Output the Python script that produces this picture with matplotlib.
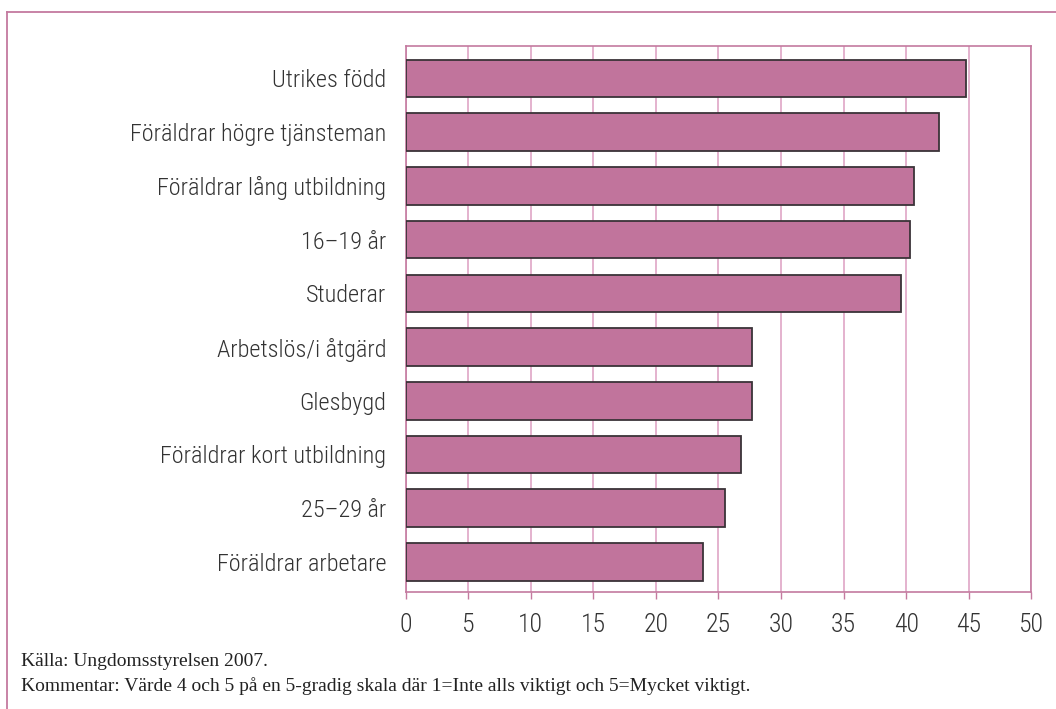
import matplotlib
matplotlib.use("Agg")
import matplotlib.pyplot as plt
from matplotlib import font_manager
from matplotlib.lines import Line2D

# data
categories = [
    "Utrikes född",
    "Föräldrar högre tjänsteman",
    "Föräldrar lång utbildning",
    "16–19 år",
    "Studerar",
    "Arbetslös/i åtgärd",
    "Glesbygd",
    "Föräldrar kort utbildning",
    "25–29 år",
    "Föräldrar arbetare",
]
values = [44.8, 42.6, 40.6, 40.3, 39.6, 27.7, 27.7, 26.8, 25.5, 23.8]
x_ticks = [0, 5, 10, 15, 20, 25, 30, 35, 40, 45, 50]
source_text = "Källa: Ungdomsstyrelsen 2007."
comment_text = "Kommentar: Värde 4 och 5 på en 5-gradig skala där 1=Inte alls viktigt och 5=Mycket viktigt."

BAR_COLOR = "#c1749c"
EDGE_COLOR = "#3a3338"
FRAME_COLOR = "#c47a9f"
GRID_COLOR = "#dfa6c6"


def pick_font(names, fallback):
    installed = {f.name for f in font_manager.fontManager.ttflist}
    for n in names:
        if n in installed:
            return n
    return fallback


label_font = pick_font(["Roboto Condensed", "Liberation Sans Narrow", "DejaVu Sans Condensed"], "DejaVu Sans")
serif_font = pick_font(["Liberation Serif", "DejaVu Serif"], "serif")

fig = plt.figure(figsize=(10.56, 7.09), dpi=100)
ax = fig.add_axes([405.7 / 1056, 1 - 592 / 709, (1031.3 - 405.7) / 1056, (592 - 45.7) / 709])

ypos = list(range(len(categories)))
ax.barh(ypos, values, height=0.70, color=BAR_COLOR, edgecolor=EDGE_COLOR, linewidth=1.3, zorder=3)

ax.set_xlim(0, 50)
ax.set_ylim(9.56, -0.61)
ax.set_xticks(x_ticks)
ax.set_xticklabels([str(t) for t in x_ticks], fontsize=18.5, color="#333333",
                   family=label_font, fontweight="light")
ax.set_yticks(ypos)
ax.set_yticklabels(categories, fontsize=17.5, color="#333333",
                   family=label_font, fontweight="light")

ax.tick_params(axis="x", direction="out", length=5, width=1, color=FRAME_COLOR, pad=10)
ax.tick_params(axis="y", length=0, pad=14)

ax.grid(axis="x", color=GRID_COLOR, linewidth=1.2, zorder=0)
for side in ["top", "bottom", "left", "right"]:
    ax.spines[side].set_color(FRAME_COLOR)
    ax.spines[side].set_linewidth(1.2)

# outer frame (left and top edges only are visible)
fig.add_artist(Line2D([7.3 / 1056, 7.3 / 1056], [0, 1 - 11.7 / 709],
                      transform=fig.transFigure, color=FRAME_COLOR, linewidth=1.3))
fig.add_artist(Line2D([7.3 / 1056, 1], [1 - 11.7 / 709, 1 - 11.7 / 709],
                      transform=fig.transFigure, color=FRAME_COLOR, linewidth=1.3))

fig.text(21 / 1056, 1 - 661 / 709, source_text, fontsize=14, family=serif_font,
         color="#222222", va="center", ha="left")
fig.text(21 / 1056, 1 - 686 / 709, comment_text, fontsize=14, family=serif_font,
         color="#222222", va="center", ha="left")

fig.savefig("out.png", dpi=100)
